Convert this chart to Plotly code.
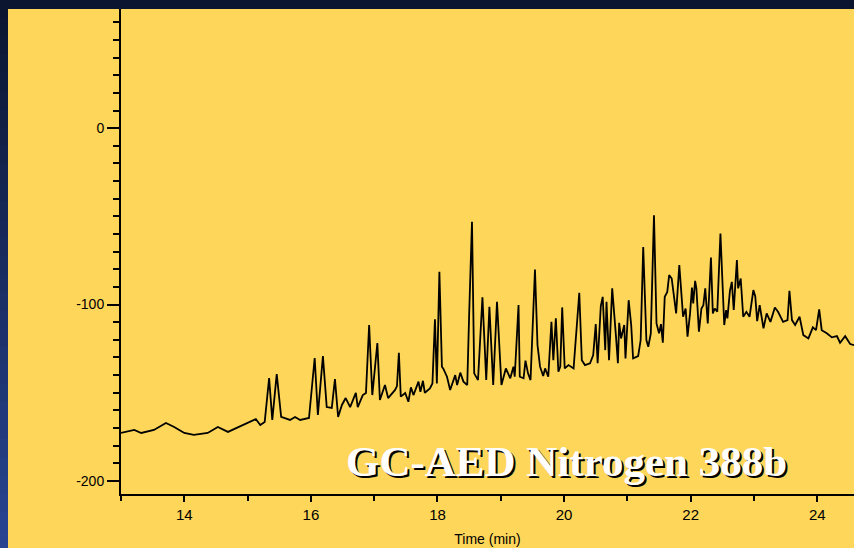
import plotly.graph_objects as go

# Retention time (min)
time_min = [
    13.00, 13.21, 13.32, 13.52, 13.71, 13.84, 14.00, 14.15, 14.37, 14.53,
    14.69, 14.85, 15.02, 15.13, 15.20, 15.27, 15.34, 15.39, 15.46, 15.53,
    15.67, 15.75, 15.83, 15.97, 16.06, 16.11, 16.19, 16.25, 16.33, 16.38,
    16.43, 16.49, 16.55, 16.62, 16.71, 16.74, 16.82, 16.87, 16.92, 16.97,
    17.05, 17.09, 17.17, 17.22, 17.33, 17.36, 17.39, 17.42, 17.49, 17.54,
    17.58, 17.62, 17.70, 17.73, 17.77, 17.80, 17.88, 17.92, 17.96, 17.99,
    18.03, 18.07, 18.09, 18.15, 18.20, 18.28, 18.31, 18.36, 18.41, 18.47,
    18.50, 18.545, 18.58, 18.64, 18.71, 18.77, 18.82, 18.88, 18.94, 19.01,
    19.08, 19.15, 19.20, 19.22, 19.28, 19.30, 19.36, 19.39, 19.43, 19.47,
    19.54, 19.58, 19.62, 19.67, 19.70, 19.75, 19.80, 19.83, 19.87, 19.91,
    19.94, 19.97, 20.01, 20.07, 20.15, 20.24, 20.28, 20.33, 20.41, 20.46,
    20.50, 20.53, 20.58, 20.61, 20.65, 20.67, 20.71, 20.76, 20.82, 20.85,
    20.87, 20.90, 20.95, 20.97, 21.02, 21.06, 21.09, 21.17, 21.21, 21.25,
    21.30, 21.33, 21.37, 21.42, 21.46, 21.50, 21.53, 21.56, 21.59, 21.63,
    21.66, 21.70, 21.73, 21.77, 21.82, 21.86, 21.88, 21.92, 21.95, 21.99,
    22.02, 22.04, 22.07, 22.09, 22.13, 22.17, 22.20, 22.23, 22.27, 22.32,
    22.35, 22.38, 22.42, 22.47, 22.51, 22.53, 22.56, 22.58, 22.62, 22.65,
    22.68, 22.73, 22.75, 22.79, 22.83, 22.88, 22.93, 22.99, 23.02, 23.05,
    23.09, 23.15, 23.20, 23.26, 23.33, 23.38, 23.46, 23.53, 23.56, 23.60,
    23.65, 23.72, 23.78, 23.86, 23.93, 23.98, 24.03, 24.07, 24.15, 24.23,
    24.31, 24.36, 24.44, 24.52, 24.58,
]

# Detector response
response = [
    -172.8, -171.1, -172.8, -171.1, -167.1, -169.4, -172.8, -173.9, -172.8, -169.4,
    -172.2, -169.4, -166.6, -164.9, -168.3, -166.6, -141.7, -165.4, -139.4, -163.7,
    -165.4, -163.7, -165.4, -164.3, -130.3, -162.6, -129.2, -158.1, -158.6, -142.2,
    -163.7, -156.9, -153.0, -158.1, -150.1, -158.1, -151.3, -150.1, -111.6, -151.3,
    -121.8, -154.1, -145.6, -153.0, -148.4, -146.2, -127.3, -152.2, -150.1, -155.1,
    -146.9, -151.3, -143.7, -149.4, -143.2, -150.0, -147.5, -144.7, -108.4, -144.7,
    -81.4, -135.2, -136.2, -140.9, -148.4, -140.0, -145.6, -138.6, -143.7, -145.6,
    -106.0, -53.1, -139.0, -142.8, -95.9, -142.8, -101.2, -145.6, -98.4, -145.6,
    -136.2, -141.8, -135.2, -140.9, -100.3, -140.9, -141.8, -131.8, -139.0, -142.8,
    -80.1, -123.0, -135.2, -140.5, -136.2, -140.9, -109.8, -131.5, -107.8, -138.1,
    -135.2, -101.6, -136.2, -134.3, -136.2, -93.3, -131.5, -134.3, -133.3, -128.6,
    -111.1, -133.3, -100.9, -95.6, -125.8, -98.4, -131.5, -90.8, -118.2, -133.3,
    -110.3, -119.2, -111.6, -130.5, -97.5, -111.6, -130.5, -129.2, -120.1, -67.3,
    -120.1, -123.9, -116.3, -49.3, -110.7, -116.3, -111.1, -121.6, -95.6, -92.8,
    -83.3, -85.2, -93.7, -105.0, -77.6, -95.6, -106.9, -102.2, -118.2, -105.0,
    -90.3, -99.3, -86.5, -90.8, -115.4, -102.2, -100.3, -90.8, -110.7, -73.3,
    -105.0, -102.2, -104.1, -59.7, -101.2, -111.6, -103.1, -107.8, -92.2, -87.1,
    -103.1, -74.8, -90.8, -85.2, -106.9, -104.1, -106.9, -91.8, -95.2, -109.4,
    -100.3, -113.5, -105.0, -109.8, -101.6, -104.1, -109.8, -108.8, -92.2, -108.8,
    -111.6, -106.9, -117.3, -119.2, -112.9, -114.5, -102.7, -114.5, -116.3, -118.6,
    -117.9, -121.6, -117.9, -122.4, -123.0,
]

y_tick_vals = [-200, -100, 0]
x_tick_vals = [14, 16, 18, 20, 22, 24]
title_text = "GC-AED Nitrogen 388b"

W, H = 854, 548
ML, MR, MT, MB = 121, 0, 9, 54
PW, PH = W - ML - MR, H - MT - MB


def px_x(px):
    return (px - ML) / PW


def px_y(py):
    return (H - MB - py) / PH


YELLOW = "#FED65A"

shapes = []
# dark blue gradient background (top dark navy -> bottom brighter blue)
top_rgb = (11, 21, 48)
bot_rgb = (40, 68, 145)
n = 30
for i in range(n):
    f = i / (n - 1)
    c = tuple(int(round(top_rgb[k] + (bot_rgb[k] - top_rgb[k]) * f)) for k in range(3))
    y0p = H * i / n
    y1p = H * (i + 1) / n + 1
    shapes.append(dict(type="rect", xref="paper", yref="paper",
                       x0=px_x(0), x1=px_x(W), y0=px_y(y1p), y1=px_y(y0p),
                       fillcolor="rgb(%d,%d,%d)" % c, line=dict(width=0), layer="below"))
# yellow panel
shapes.append(dict(type="rect", xref="paper", yref="paper",
                   x0=px_x(8), x1=px_x(W + 2), y0=px_y(H + 2), y1=px_y(9),
                   fillcolor=YELLOW, line=dict(width=0), layer="below"))

fig = go.Figure()
fig.add_trace(go.Scatter(x=time_min, y=response, mode="lines",
                         line=dict(color="black", width=1.8), hoverinfo="skip",
                         showlegend=False))

ann_font = "Liberation Serif, Times New Roman, serif"
annotations = [
    dict(text="<b>%s</b>" % title_text, xref="paper", yref="paper",
         x=px_x(566.5), y=px_y(461),
         xanchor="center", yanchor="middle", showarrow=False,
         font=dict(family=ann_font, size=43, color="white",
                   shadow="2px 2px 0px black")),
]

fig.update_layout(
    width=W, height=H,
    margin=dict(l=ML, r=MR, t=MT, b=MB, pad=0),
    paper_bgcolor="#0c1631",
    plot_bgcolor=YELLOW,
    shapes=shapes,
    annotations=annotations,
    showlegend=False,
    font=dict(family="Liberation Sans, Arial, sans-serif", color="black"),
)

fig.update_xaxes(
    range=[13.0, 24.58], showgrid=False, zeroline=False,
    showline=True, linecolor="black", linewidth=2,
    tickmode="array", tickvals=x_tick_vals, ticktext=[str(v) for v in x_tick_vals],
    ticks="outside", ticklen=6, tickwidth=1.5, tickcolor="black",
    minor=dict(dtick=1, tick0=13, ticks="outside", ticklen=5, tickwidth=1.5, tickcolor="black"),
    tickfont=dict(size=15), title=dict(text="Time (min)", font=dict(size=14), standoff=12),
)
fig.update_yaxes(
    range=[-207.4, 67.6], showgrid=False, zeroline=False,
    showline=True, linecolor="black", linewidth=2,
    tickmode="array", tickvals=y_tick_vals, ticktext=[str(v) for v in y_tick_vals],
    ticks="outside", ticklen=12, tickwidth=1.5, tickcolor="black",
    minor=dict(dtick=10, tick0=0, ticks="outside", ticklen=6, tickwidth=1.5, tickcolor="black"),
    tickfont=dict(size=14),
)

fig.write_html("out.html")
